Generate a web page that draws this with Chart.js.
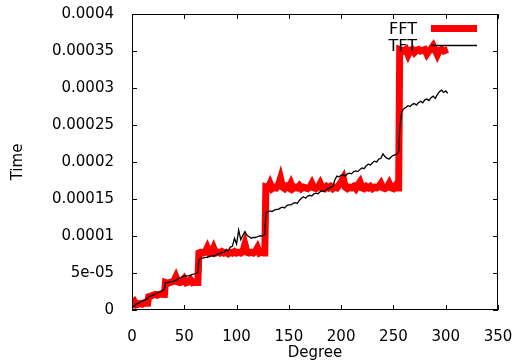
<!DOCTYPE html>
<html>
<head>
<meta charset="utf-8">
<script src="https://cdn.jsdelivr.net/npm/chart.js@4.4.1/dist/chart.umd.min.js"></script>
<style>
  body { margin: 0; background: #fff; }
  canvas { display: block; }
</style>
</head>
<body>
<canvas id="timeChart" width="515" height="364"></canvas>
<script>
// degrees (x values)
const degrees = [
    0, 2, 4, 6, 8, 10, 12, 14, 15,
    16, 18, 20, 22, 24, 26, 28, 30, 31,
    32, 34, 36, 38, 40, 42, 44, 46, 48, 50, 52, 54, 56, 58, 60, 62, 63,
    64, 66, 68, 70, 72, 74, 76, 78, 80, 82, 84, 86, 88, 90, 92, 94, 96, 98, 100, 102,
    104, 106, 108, 110, 112, 114, 116, 118, 120, 122, 124, 126, 127,
    128, 130, 132, 134, 136, 138, 140, 142, 144, 146, 148, 150, 152, 154, 156, 158, 160, 162, 164, 166,
    168, 170, 172, 174, 176, 178, 180, 182, 184, 186, 188, 190, 192, 194, 196, 198, 200, 202, 204, 206,
    208, 210, 212, 214, 216, 218, 220, 222, 224, 226, 228, 230, 232, 234, 236, 238, 240, 242, 244, 246,
    248, 250, 252, 254, 255,
    256, 258, 260, 262, 264, 266, 268, 270, 272, 274, 276, 278, 280, 282, 284, 286, 288, 290, 292, 294,
    296, 298, 300, 302
];

// FFT time, microseconds
const fftMicros = [
    10, 12, 7, 8, 9, 8, 10, 9, 9,
    18, 19, 20, 21, 20, 21, 22, 21, 21,
    37, 36, 37, 38, 39, 45, 38, 37, 38, 42, 37, 38, 41, 37, 38, 37, 37,
    77, 78, 77, 78, 84, 77, 78, 84, 77, 78, 77, 79, 77, 78, 76, 78, 77, 79, 77, 78,
    77, 79, 89, 78, 77, 78, 77, 79, 84, 77, 78, 77, 77,
    166, 165, 171, 164, 166, 165, 169, 178, 166, 164, 167, 165, 171, 164, 166, 165, 168, 164, 166, 165,
    164, 166, 171, 165, 164, 166, 171, 165, 164, 167, 165, 167, 164, 166, 165, 169, 173, 178, 166, 164,
    166, 165, 167, 164, 169, 173, 165, 164, 167, 165, 167, 164, 166, 165, 167, 171, 165, 164, 166, 171,
    165, 164, 168, 165, 165,
    352, 351, 350, 352, 345, 351, 352, 348, 351, 352, 350, 351, 352, 346, 350, 353, 357, 351, 345, 351,
    352, 350, 351, 352
];

// TFT time, microseconds
const tftMicros = [
    2, 5, 8, 9, 11, 12, 13, 15, 16,
    18, 19, 20, 21, 23, 24, 25, 27, 28,
    37, 37, 38, 38, 39, 40, 42, 43, 45, 46, 46, 46, 47, 48, 49, 50, 51,
    68, 70, 70, 71, 71, 72, 73, 73, 74, 76, 76, 78, 78, 81, 80, 85, 86, 97, 89, 108,
    95, 101, 106, 101, 99, 97, 98, 98, 99, 100, 100, 101, 102,
    131, 133, 134, 133, 135, 136, 136, 138, 139, 138, 141, 142, 142, 144, 145, 144, 148, 151, 153, 151,
    154, 155, 154, 157, 158, 157, 160, 161, 160, 163, 164, 166, 167, 176, 181, 180, 182, 183, 181, 184,
    185, 184, 187, 188, 187, 190, 192, 191, 195, 197, 196, 199, 201, 200, 204, 205, 211, 207, 205, 204,
    207, 209, 210, 212, 214,
    245, 268, 272, 274, 276, 275, 278, 279, 277, 280, 282, 280, 284, 285, 283, 287, 289, 286, 291, 295,
    297, 294, 296, 293
];

const xTickLabels = ['0', '50', '100', '150', '200', '250', '300', '350'];
const yTickLabels = ['0', '5e-05', '0.0001', '0.00015', '0.0002', '0.00025', '0.0003', '0.00035', '0.0004'];
const seriesNames = ['FFT', 'TFT'];

function toPoints(values) {
    return degrees.map((d, i) => ({ x: d, y: values[i] * 1e-6 }));
}

const FONT = 'DejaVu Sans';

// border box, inward ticks on all four sides, and the key
const framePlugin = {
    id: 'frame',
    afterDatasetsDraw(chart) {
        const { ctx, chartArea: a, scales } = chart;
        const x = scales.x, y = scales.y;
        ctx.save();
        ctx.strokeStyle = '#000';
        ctx.lineWidth = 1;
        ctx.strokeRect(a.left + 0.5, a.top + 0.5, a.right - a.left - 1, a.bottom - a.top - 1);
        ctx.beginPath();
        x.ticks.forEach(t => {
            const px = Math.round(x.getPixelForValue(t.value)) + 0.5;
            ctx.moveTo(px, a.bottom); ctx.lineTo(px, a.bottom - 5);
            ctx.moveTo(px, a.top); ctx.lineTo(px, a.top + 5);
        });
        y.ticks.forEach(t => {
            const py = Math.round(y.getPixelForValue(t.value)) + 0.5;
            ctx.moveTo(a.left, py); ctx.lineTo(a.left + 5, py);
            ctx.moveTo(a.right, py); ctx.lineTo(a.right - 5, py);
        });
        ctx.stroke();

        // key
        ctx.font = '16px "' + FONT + '"';
        ctx.textAlign = 'right';
        ctx.textBaseline = 'alphabetic';
        ctx.fillStyle = '#000';
        chart.data.datasets.forEach((ds, i) => {
            const rowY = 28 + i * 17;
            ctx.fillText(seriesNames[i], 417, rowY + 6);
            ctx.beginPath();
            ctx.strokeStyle = ds.borderColor;
            ctx.lineWidth = ds.borderWidth;
            ctx.moveTo(431, rowY + 0.5);
            ctx.lineTo(477, rowY + 0.5);
            ctx.stroke();
        });
        ctx.restore();
    }
};

const chartConfig = {
    type: 'line',
    data: {
        datasets: [{
            label: seriesNames[0],
            data: toPoints(fftMicros),
            borderColor: '#ff0000',
            borderWidth: 7,
            borderJoinStyle: 'miter',
            pointRadius: 0,
            tension: 0,
            order: 1
        }, {
            label: seriesNames[1],
            data: toPoints(tftMicros),
            borderColor: '#000000',
            borderWidth: 1.3,
            pointRadius: 0,
            tension: 0,
            order: 0
        }]
    },
    options: {
        responsive: false,
        animation: false,
        devicePixelRatio: 1,
        layout: { padding: { top: 14, right: 17, left: 0, bottom: 0 } },
        plugins: {
            legend: { display: false },
            tooltip: { enabled: false }
        },
        scales: {
            x: {
                type: 'linear',
                min: 0,
                max: 350,
                grid: { display: false },
                border: { display: false },
                ticks: {
                    stepSize: 50,
                    padding: 10,
                    color: '#000',
                    font: { family: FONT, size: 15 },
                    maxRotation: 0,
                    callback: (v, i) => xTickLabels[i]
                },
                title: {
                    display: true,
                    text: 'Degree',
                    color: '#000',
                    font: { family: FONT, size: 15 },
                    padding: { top: 0, bottom: 2 }
                },
                afterFit: scale => {
                    scale.height = 54;
                    scale.paddingLeft = 0;
                    scale.paddingRight = 0;
                }
            },
            y: {
                min: 0,
                max: 0.0004,
                grid: { display: false },
                border: { display: false },
                ticks: {
                    stepSize: 0.00005,
                    padding: 10,
                    color: '#000',
                    font: { family: FONT, size: 15 },
                    callback: (v, i) => yTickLabels[i]
                },
                title: {
                    display: true,
                    text: 'Time',
                    color: '#000',
                    font: { family: FONT, size: 15 },
                    padding: { top: 9, bottom: 0 }
                },
                afterFit: scale => {
                    scale.width = 132;
                    scale.paddingTop = 0;
                    scale.paddingBottom = 0;
                }
            }
        }
    },
    plugins: [framePlugin]
};

function initializeChart() {
    const canvas = document.getElementById('timeChart');
    if (canvas) {
        const ctx = canvas.getContext('2d');
        if (ctx) {
            new Chart(ctx, chartConfig);
        }
    }
}

document.addEventListener('DOMContentLoaded', initializeChart);
</script>
</body>
</html>
